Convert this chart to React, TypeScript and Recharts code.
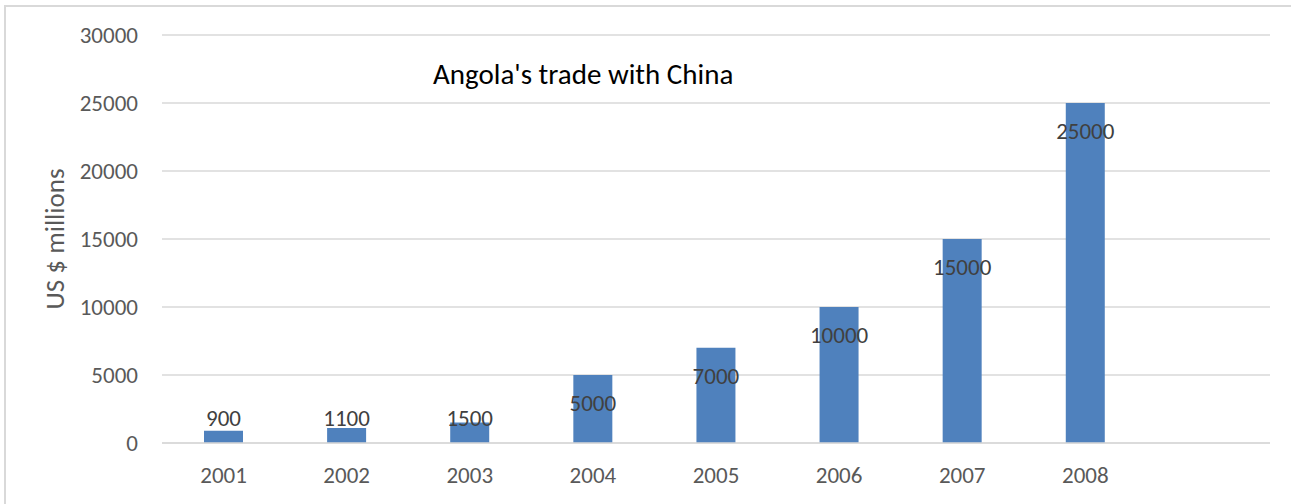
import React from "react";
import { BarChart, Bar, XAxis, YAxis, CartesianGrid, LabelList } from "recharts";

const categories = ["2001", "2002", "2003", "2004", "2005", "2006", "2007", "2008", ""];
const tradeValues: (number | null)[] = [900, 1100, 1500, 5000, 7000, 10000, 15000, 25000, null];
const yTicks = [0, 5000, 10000, 15000, 20000, 25000, 30000];

const data = categories.map((c, i) => ({ year: c, value: tradeValues[i] }));

const FONT = "Carlito, Calibri, Lato, 'Open Sans', sans-serif";
const FS = 23;

const BarLabel = (props: any) => {
  const { x, y, width, height, value } = props;
  if (value == null) return null;
  const base = y + height;
  const cy = Math.min(y + 28, base - 25);
  return (
    <text
      x={x + width / 2}
      y={cy}
      textAnchor="middle"
      dominantBaseline="central"
      fill="#404040"
      fontSize={FS}
      fontFamily={FONT}
    >
      {value}
    </text>
  );
};

export default function App() {
  return (
    <div style={{ position: "relative", width: 1291, height: 504, background: "#fff", overflow: "hidden" }}>
      <style>{`body{margin:0}`}</style>
      <div
        style={{
          position: "absolute",
          left: 4,
          top: 5,
          width: 1300,
          height: 520,
          borderTop: "2px solid #D9D9D9",
          borderLeft: "2px solid #D9D9D9",
          boxSizing: "border-box",
        }}
      />
      <BarChart
        width={1291}
        height={504}
        data={data}
        margin={{ top: 35, right: 21, bottom: 0, left: 0 }}
        style={{ position: "absolute", left: 0, top: 0 }}
      >
        <CartesianGrid vertical={false} stroke="#D9D9D9" strokeWidth={1.5} />
        <XAxis
          dataKey="year"
          height={61}
          axisLine={{ stroke: "#D9D9D9", strokeWidth: 1.5 }}
          tickLine={false}
          tickSize={0}
          tickMargin={24}
          tick={{ fill: "#595959", fontSize: FS, fontFamily: FONT }}
          interval={0}
        />
        <YAxis
          width={162}
          domain={[0, 30000]}
          ticks={yTicks}
          axisLine={false}
          tickLine={false}
          tickSize={0}
          tickMargin={24}
          tick={{ fill: "#595959", fontSize: FS, fontFamily: FONT }}
          label={{
            value: "US $ millions",
            angle: -90,
            position: "insideLeft",
            offset: 0,
            dx: 54,
            style: { fill: "#595959", fontSize: 27, fontFamily: FONT, textAnchor: "middle" },
          }}
        />
        <Bar dataKey="value" fill="#4F81BD" barSize={39} isAnimationActive={false}>
          <LabelList dataKey="value" content={BarLabel} />
        </Bar>
        <text x={433} y={74} dominantBaseline="central" fill="#000" fontSize={29} fontFamily={FONT}>
          Angola's trade with China
        </text>
      </BarChart>
    </div>
  );
}
